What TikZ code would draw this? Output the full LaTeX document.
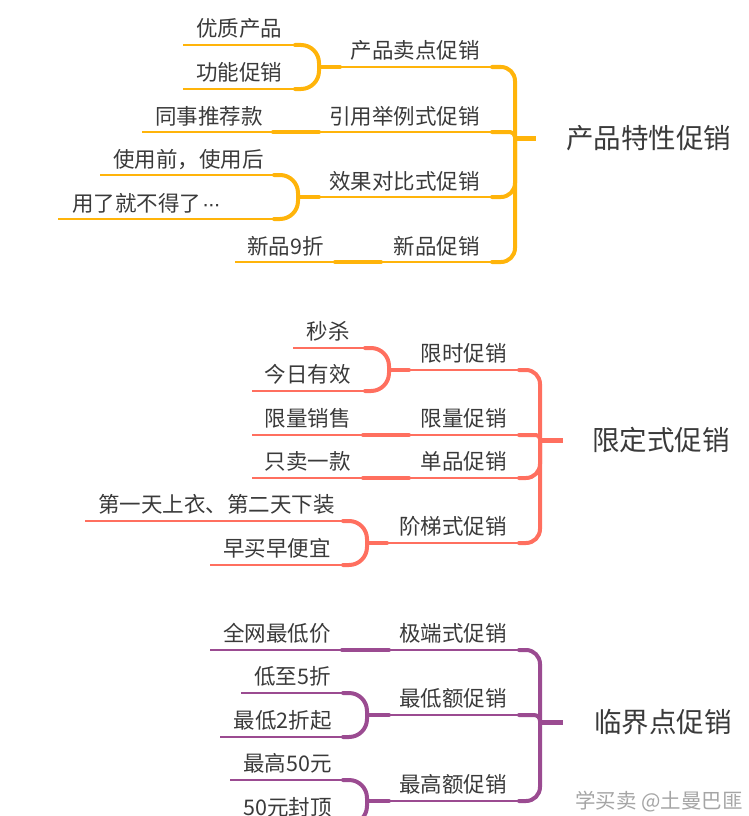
\documentclass[tikz,border=0pt]{standalone}
\usepackage{fontspec}
\setmainfont{Noto Sans CJK SC}
\newfontfamily\latinf{Liberation Sans}
\definecolor{cO}{RGB}{255,180,10}
\definecolor{cS}{RGB}{255,111,95}
\definecolor{cP}{RGB}{155,75,145}
\definecolor{txt}{RGB}{58,58,58}
\definecolor{wmk}{RGB}{165,165,165}
\tikzset{
 thinline/.style={line width=1.6pt},
 thickline/.style={line width=4pt,line cap=round},
 stubline/.style={line width=5pt},
 lbl/.style={inner sep=0pt,text=txt,font=\fontsize{21.5}{24}\selectfont},
 mainlbl/.style={inner sep=0pt,text=txt,font=\fontsize{27.5}{30}\selectfont},
}
\def\tdy{8}
% name, colour, x1, x2, y, anchor, text x, text
\newcommand\mmleaf[8]{%
 \coordinate (#1-l) at (#3,#5);
 \coordinate (#1-r) at (#4,#5);
 \draw[thinline,draw=#2] (#1-l) -- (#1-r);
 \node[lbl,anchor=#6] (#1) at (#7,#5-\tdy) {#8};}
% colour, top leaf, bottom leaf, parent
\newcommand\mmpair[4]{%
 \draw[thickline,draw=#1,rounded corners=18pt] (#2-r) -- ([xshift=24pt]#2-r) |- (#3-r);
 \draw[thickline,draw=#1] ([xshift=24pt]#2-r |- #4-l) -- (#4-l);}
% colour, branch, junction, radius
\newcommand\mmspine[4]{%
 \draw[thickline,draw=#1,rounded corners=#4] (#2-r) -- (#2-r -| #3) -- (#3);}
\begin{document}
\begin{tikzpicture}[x=1pt,y=-1pt]
\useasboundingbox (0,0) rectangle (748,816);

% ---------- group 1 ----------
\def\tdy{8}
\coordinate (j1) at (515,138);
\coordinate (s1) at (536,138);
\node[mainlbl,anchor=base west] (r1) at (566,148.5) {产品特性促销};
\mmleaf{b11}{cO}{340}{492}{67}{base east}{480}{产品卖点促销}
\mmleaf{b12}{cO}{319}{492}{132}{base east}{480}{引用举例式促销}
\mmleaf{b13}{cO}{319}{492}{197}{base east}{480}{效果对比式促销}
\mmleaf{b14}{cO}{381}{492}{262}{base east}{480}{新品促销}
\mmleaf{l111}{cO}{183}{295}{45}{base west}{196}{优质产品}
\mmleaf{l112}{cO}{183}{295}{89}{base west}{196}{功能促销}
\mmleaf{l121}{cO}{142}{273}{132}{base west}{155}{同事推荐款}
\mmleaf{l131}{cO}{100}{274}{175}{base west}{113}{使用前，使用后}
\mmleaf{l132}{cO}{58}{274}{219}{base west}{72}{用了就不得了{\latinf\kern1pt·\kern-1.5pt·\kern-1.5pt·}}
\mmleaf{l141}{cO}{235}{335}{262}{base west}{247}{新品9折}
\mmpair{cO}{l111}{l112}{b11}
\draw[thickline,draw=cO] (l121-r) -- (b12-l);
\mmpair{cO}{l131}{l132}{b13}
\draw[thickline,draw=cO] (l141-r) -- (b14-l);
\mmspine{cO}{b11}{j1}{14pt}
\mmspine{cO}{b12}{j1}{5pt}
\mmspine{cO}{b13}{j1}{14pt}
\mmspine{cO}{b14}{j1}{14pt}
\draw[stubline,draw=cO] (j1) -- (s1);

% ---------- group 2 ----------
\def\tdy{9}
\coordinate (j2) at (540,440);
\coordinate (s2) at (563,440);
\node[mainlbl,anchor=base west] (r2) at (592,450) {限定式促销};
\mmleaf{b21}{cS}{409}{519}{370}{base east}{507}{限时促销}
\mmleaf{b22}{cS}{409}{519}{435}{base east}{507}{限量促销}
\mmleaf{b23}{cS}{409}{519}{478}{base east}{507}{单品促销}
\mmleaf{b24}{cS}{387}{519}{543}{base east}{507}{阶梯式促销}
\mmleaf{l211}{cS}{293}{365}{348}{base east}{350}{秒杀}
\mmleaf{l212}{cS}{252}{365}{391}{base east}{351}{今日有效}
\mmleaf{l221}{cS}{252}{363}{435}{base east}{351}{限量销售}
\mmleaf{l231}{cS}{252}{363}{478}{base east}{351}{只卖一款}
\mmleaf{l241}{cS}{85}{343}{521}{base west}{98}{第一天上衣、第二天下装}
\mmleaf{l242}{cS}{210}{343}{565}{base west}{223}{早买早便宜}
\mmpair{cS}{l211}{l212}{b21}
\draw[thickline,draw=cS] (l221-r) -- (b22-l);
\draw[thickline,draw=cS] (l231-r) -- (b23-l);
\mmpair{cS}{l241}{l242}{b24}
\mmspine{cS}{b21}{j2}{14pt}
\mmspine{cS}{b22}{j2}{4pt}
\mmspine{cS}{b23}{j2}{14pt}
\mmspine{cS}{b24}{j2}{14pt}
\draw[stubline,draw=cS] (j2) -- (s2);

% ---------- group 3 ----------
\coordinate (j3) at (540,722);
\coordinate (s3) at (563,722);
\node[mainlbl,anchor=base west] (r3) at (594,732) {临界点促销};
\mmleaf{b31}{cP}{389}{519}{650}{base east}{507}{极端式促销}
\mmleaf{b32}{cP}{389}{519}{715}{base east}{507}{最低额促销}
\mmleaf{b33}{cP}{389}{519}{801}{base east}{507}{最高额促销}
\mmleaf{l311}{cP}{210}{342}{650}{base east}{331}{全网最低价}
\mmleaf{l321}{cP}{241}{343}{693}{base east}{331}{低至5折}
\mmleaf{l322}{cP}{220}{343}{737}{base east}{332}{最低2折起}
\mmleaf{l331}{cP}{230}{343}{780}{base east}{332}{最高50元}
\mmleaf{l332}{cP}{230}{343}{824}{base east}{332}{50元封顶}
\draw[thickline,draw=cP] (l311-r) -- (b31-l);
\mmpair{cP}{l321}{l322}{b32}
\mmpair{cP}{l331}{l332}{b33}
\mmspine{cP}{b31}{j3}{14pt}
\mmspine{cP}{b32}{j3}{6pt}
\mmspine{cP}{b33}{j3}{14pt}
\draw[stubline,draw=cP] (j3) -- (s3);

% watermark
\node[inner sep=0pt,text=wmk,font=\fontsize{20.5}{22}\selectfont,anchor=base west] (wm) at (575,808) {学买卖 @土曼巴匪};
\end{tikzpicture}
\end{document}
